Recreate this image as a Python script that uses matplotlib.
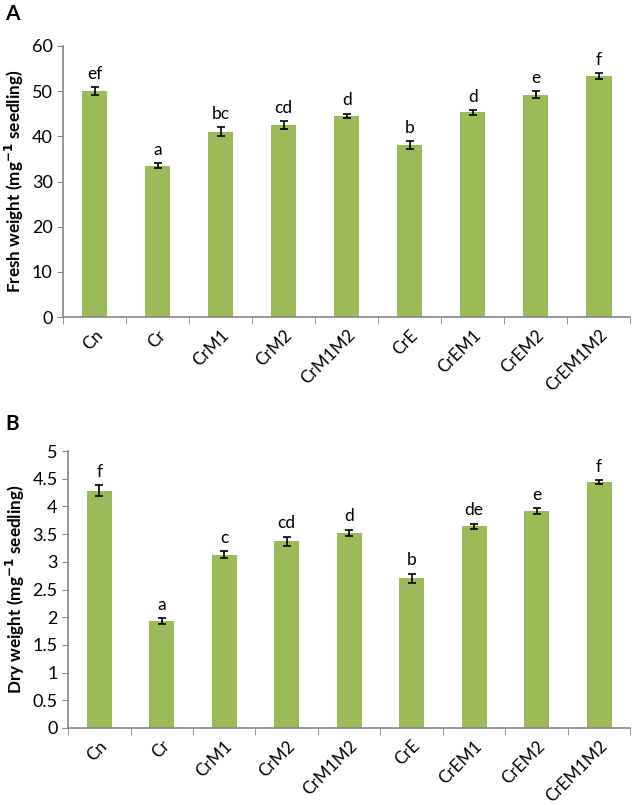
import matplotlib
matplotlib.use("Agg")
import matplotlib.pyplot as plt
import numpy as np

plt.rcParams['font.family'] = ['Lato', 'DejaVu Sans']

treatments = ['Cn', 'Cr', 'CrM1', 'CrM2', 'CrM1M2', 'CrE', 'CrEM1', 'CrEM2', 'CrEM1M2']

fresh_mean = [50.0, 33.5, 41.0, 42.5, 44.5, 38.0, 45.3, 49.2, 53.3]
fresh_err = [0.8, 0.6, 1.0, 0.8, 0.5, 0.9, 0.5, 0.8, 0.6]
fresh_letters = ['ef', 'a', 'bc', 'cd', 'd', 'b', 'd', 'e', 'f']

dry_mean = [4.28, 1.93, 3.13, 3.37, 3.52, 2.70, 3.64, 3.92, 4.44]
dry_err = [0.10, 0.05, 0.06, 0.08, 0.06, 0.08, 0.05, 0.05, 0.03]
dry_letters = ['f', 'a', 'c', 'cd', 'd', 'b', 'de', 'e', 'f']

bar_color = '#9BBB59'
axis_color = '#868686'

fig = plt.figure(figsize=(6.34, 8.05), dpi=100)
axA = fig.add_axes([0.0994, 0.606, 0.895, 0.337])
axB = fig.add_axes([0.1073, 0.0957, 0.887, 0.344])


def draw(ax, means, errs, letters, ymax, step, ylabel, gap):
    x = np.arange(len(treatments))
    ax.bar(x, means, width=0.4, color=bar_color, zorder=2)
    ax.errorbar(x, means, yerr=errs, fmt='none', ecolor='black',
                elinewidth=1.2, capsize=3, capthick=1.2, zorder=3)
    for xi, m, e, lab in zip(x, means, errs, letters):
        ax.text(xi, m + e + gap, lab, ha='center', va='bottom', fontsize=12.5)
    ax.set_xlim(-0.5, len(treatments) - 0.5)
    ax.set_ylim(0, ymax)
    ticks = np.arange(0, ymax + step / 2, step)
    ax.set_yticks(ticks)
    ax.set_yticklabels([f'{t:g}' for t in ticks], fontsize=13)
    ax.set_xticks(x)
    ax.set_xticklabels(treatments, rotation=45, ha='right',
                       rotation_mode='anchor', fontsize=12.3)
    ax.set_xticks(np.arange(-0.5, len(treatments)), minor=True)
    ax.tick_params(axis='x', which='major', length=0, pad=7)
    ax.tick_params(axis='x', which='minor', length=5, color=axis_color, direction='out')
    ax.tick_params(axis='y', length=4, color=axis_color, direction='out')
    for s in ['top', 'right']:
        ax.spines[s].set_visible(False)
    for s in ['left', 'bottom']:
        ax.spines[s].set_color(axis_color)
        ax.spines[s].set_linewidth(1.2)
    ax.set_ylabel(ylabel, fontsize=12.3, fontweight='bold', labelpad=4)


draw(axA, fresh_mean, fresh_err, fresh_letters, 60, 10,
     'Fresh weight (mg$^{\\mathbf{-1}}$ seedling)', 1.2)
draw(axB, dry_mean, dry_err, dry_letters, 5, 0.5,
     'Dry weight (mg$^{\\mathbf{-1}}$ seedling)', 0.1)

fig.text(0.008, 0.982, 'A', fontsize=15, fontweight='bold', va='center')
fig.text(0.008, 0.473, 'B', fontsize=15, fontweight='bold', va='center')

fig.savefig('out.png', dpi=100)
